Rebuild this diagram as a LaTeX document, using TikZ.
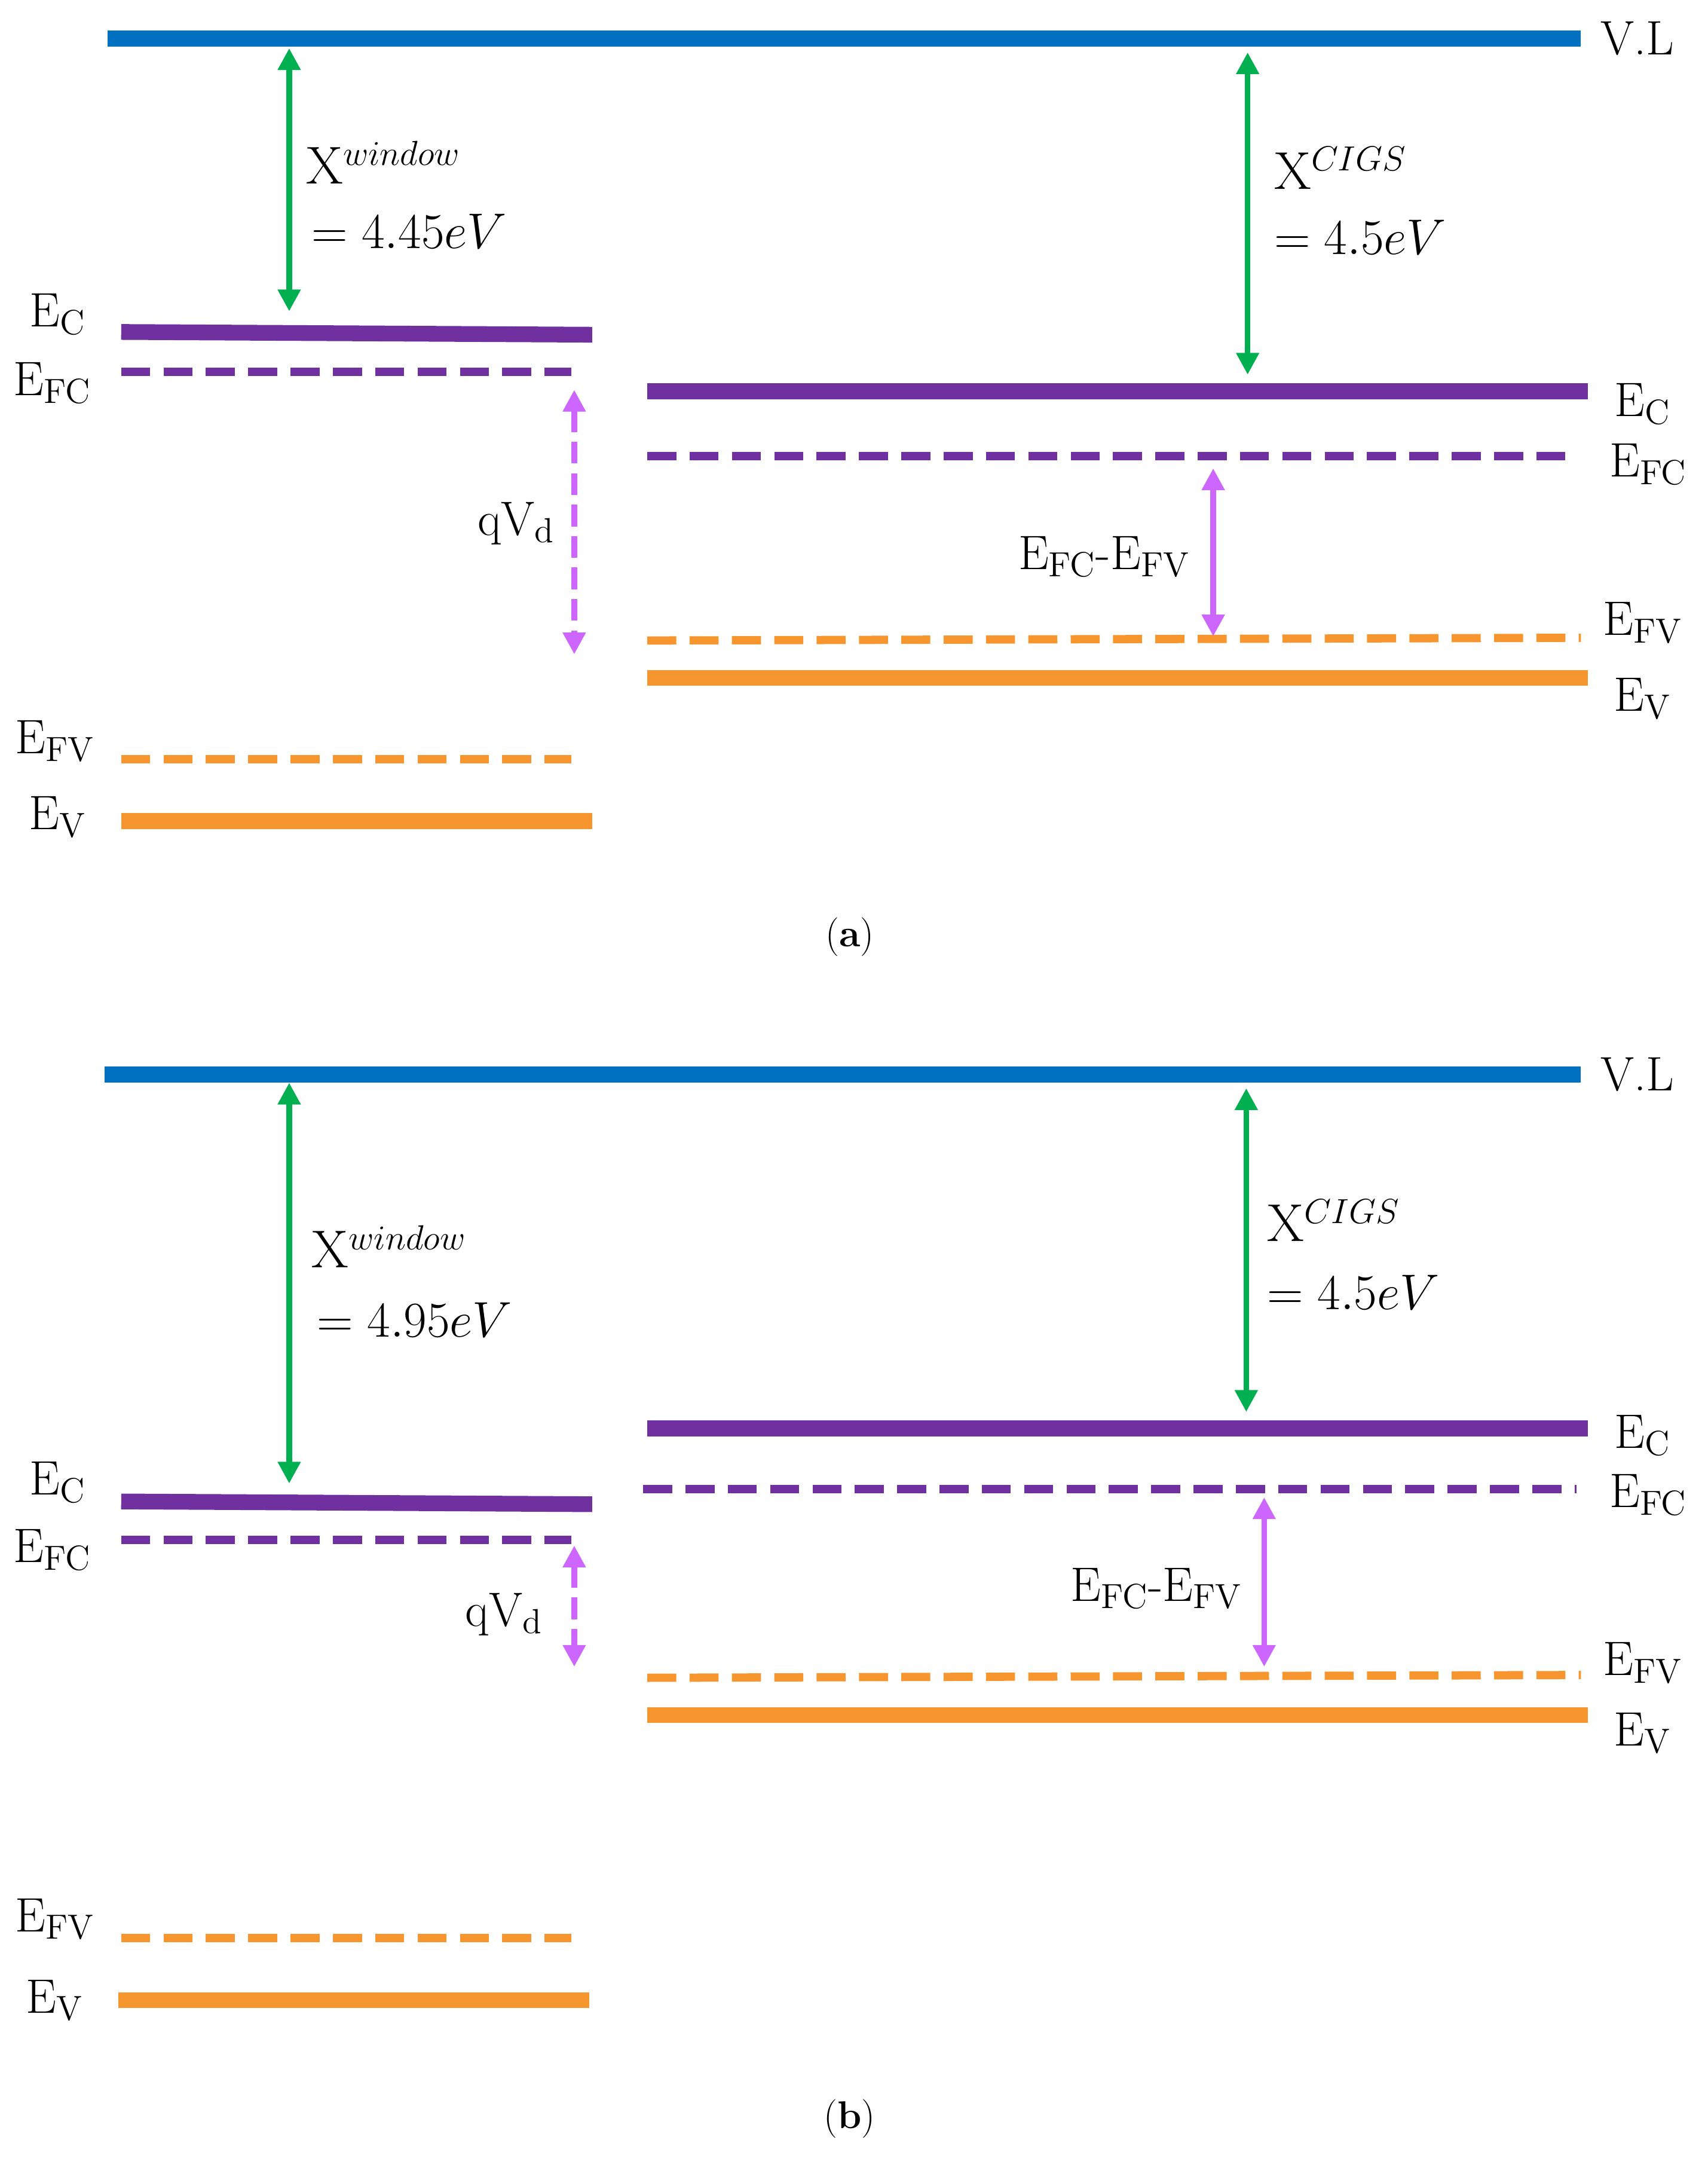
\documentclass[tikz,border=0pt]{standalone}
\usetikzlibrary{arrows.meta}
\definecolor{vlblue}{HTML}{0070C0}
\definecolor{ecpurple}{HTML}{7030A0}
\definecolor{evorange}{HTML}{F7962E}
\definecolor{chigreen}{HTML}{00B050}
\definecolor{vdpink}{HTML}{CC66FF}
\tikzset{
  vl/.style={vlblue,line width=6.8pt},
  band/.style={line width=6.5pt},
  fermi/.style={line width=3.4pt,dash pattern=on 12pt off 5.5pt},
  gap/.style={line width=2.3pt,{Triangle[length=9pt,width=9pt]}-{Triangle[length=9pt,width=9pt]}},
  lab/.style={inner sep=0pt,font=\fontsize{20}{24}\selectfont}
}
\begin{document}
\begin{tikzpicture}[x=0.02cm,y=-0.02cm]
  \useasboundingbox (0,0) rectangle (1240,1571);
  % panel (a)
  \draw[vl] (78,28) -- (1148,28);
  \node[lab,anchor=west] (vla) at (1162,28) {V.L};
  \foreach \na/\xa/\xb/\ya/\yb/\st/\co in {eca/88/430/241/243/band/ecpurple, efca/88/415/270/270/fermi/ecpurple,
      efva/88/415/551/551/fermi/evorange, eva/88/430/596/596/band/evorange,
      ecra/470/1153/284/284/band/ecpurple, efcra/470/1145/331/331/fermi/ecpurple,
      efvra/470/1148/465/463/fermi/evorange, evra/470/1153/492/492/band/evorange}{
    \coordinate (\na-l) at (\xa,\ya); \coordinate (\na-r) at (\xb,\yb);
    \draw[\st,\co] (\na-l) -- (\na-r);};
  \node[lab] (leca) at (42,228) {E$_{\mathrm{C}}$};
  \node[lab] (lefca) at (38,278) {E$_{\mathrm{FC}}$};
  \node[lab] (lefva) at (40,538) {E$_{\mathrm{FV}}$};
  \node[lab] (leva) at (42,593) {E$_{\mathrm{V}}$};
  \node[lab] (lecra) at (1193,293) {E$_{\mathrm{C}}$};
  \node[lab] (lefcra) at (1197,337) {E$_{\mathrm{FC}}$};
  \node[lab] (lefvra) at (1193,452) {E$_{\mathrm{FV}}$};
  \node[lab] (levra) at (1193,507) {E$_{\mathrm{V}}$};
  \coordinate (chiwa-t) at (210,35); \coordinate (chiwa-b) at (210,226);
  \draw[gap,chigreen] (chiwa-t) -- (chiwa-b);
  \node[lab,anchor=west,font=\fontsize{22}{26}\selectfont] (lchiwa) at (222,118) {X$^{window}$};
  \node[lab,anchor=west,font=\fontsize{22}{26}\selectfont] (lvalwa) at (226,168) {$= 4.45eV$};
  \coordinate (chica-t) at (906,38); \coordinate (chica-b) at (906,272);
  \draw[gap,chigreen] (chica-t) -- (chica-b);
  \node[lab,anchor=west,font=\fontsize{22}{26}\selectfont] (lchica) at (925,122) {X$^{CIGS}$};
  \node[lab,anchor=west,font=\fontsize{22}{26}\selectfont] (lvalca) at (925,172) {$= 4.5eV$};
  \coordinate (vda-t) at (417,283); \coordinate (vda-b) at (417,475);
  \draw[gap,vdpink,dash pattern=on 9pt off 4pt] (vda-t) -- (vda-b);
  \node[lab] (lvda) at (375,380) {qV$_{\mathrm{d}}$};
  \coordinate (qfa-t) at (881,340); \coordinate (qfa-b) at (881,462);
  \draw[gap,vdpink] (qfa-t) -- (qfa-b);
  \node[lab] (lqfa) at (802,404) {E$_{\mathrm{FC}}$-E$_{\mathrm{FV}}$};
  \node[lab,font=\fontsize{16}{20}\selectfont] (capa) at (617,680) {(\textbf{a})};
  % panel (b)
  \draw[vl] (76,780) -- (1148,780);
  \node[lab,anchor=west] (vlb) at (1162,780) {V.L};
  \foreach \na/\xa/\xb/\ya/\yb/\st/\co in {ecb/88/430/1090/1092/band/ecpurple, efcb/88/415/1118/1118/fermi/ecpurple,
      efvb/88/415/1407/1407/fermi/evorange, evb/86/428/1452/1452/band/evorange,
      ecrb/470/1153/1037/1037/band/ecpurple, efcrb/467/1145/1081/1081/fermi/ecpurple,
      efvrb/470/1148/1218/1216/fermi/evorange, evrb/470/1153/1245/1245/band/evorange}{
    \coordinate (\na-l) at (\xa,\ya); \coordinate (\na-r) at (\xb,\yb);
    \draw[\st,\co] (\na-l) -- (\na-r);};
  \node[lab] (lecb) at (42,1076) {E$_{\mathrm{C}}$};
  \node[lab] (lefcb) at (38,1125) {E$_{\mathrm{FC}}$};
  \node[lab] (lefvb) at (40,1393) {E$_{\mathrm{FV}}$};
  \node[lab] (levb) at (40,1452) {E$_{\mathrm{V}}$};
  \node[lab] (lecrb) at (1193,1042) {E$_{\mathrm{C}}$};
  \node[lab] (lefcrb) at (1197,1085) {E$_{\mathrm{FC}}$};
  \node[lab] (lefvrb) at (1193,1207) {E$_{\mathrm{FV}}$};
  \node[lab] (levrb) at (1193,1258) {E$_{\mathrm{V}}$};
  \coordinate (chiwb-t) at (210,786); \coordinate (chiwb-b) at (210,1077);
  \draw[gap,chigreen] (chiwb-t) -- (chiwb-b);
  \node[lab,anchor=west,font=\fontsize{22}{26}\selectfont] (lchiwb) at (226,905) {X$^{window}$};
  \node[lab,anchor=west,font=\fontsize{22}{26}\selectfont] (lvalwb) at (230,958) {$= 4.95eV$};
  \coordinate (chicb-t) at (905,790); \coordinate (chicb-b) at (905,1025);
  \draw[gap,chigreen] (chicb-t) -- (chicb-b);
  \node[lab,anchor=west,font=\fontsize{22}{26}\selectfont] (lchicb) at (920,886) {X$^{CIGS}$};
  \node[lab,anchor=west,font=\fontsize{22}{26}\selectfont] (lvalcb) at (920,938) {$= 4.5eV$};
  \coordinate (vdb-t) at (417,1122); \coordinate (vdb-b) at (417,1210);
  \draw[gap,vdpink,dash pattern=on 9pt off 4pt] (vdb-t) -- (vdb-b);
  \node[lab] (lvdb) at (366,1172) {qV$_{\mathrm{d}}$};
  \coordinate (qfb-t) at (918,1087); \coordinate (qfb-b) at (918,1210);
  \draw[gap,vdpink] (qfb-t) -- (qfb-b);
  \node[lab] (lqfb) at (840,1153) {E$_{\mathrm{FC}}$-E$_{\mathrm{FV}}$};
  \node[lab,font=\fontsize{16}{20}\selectfont] (capb) at (617,1538) {(\textbf{b})};
\end{tikzpicture}
\end{document}
